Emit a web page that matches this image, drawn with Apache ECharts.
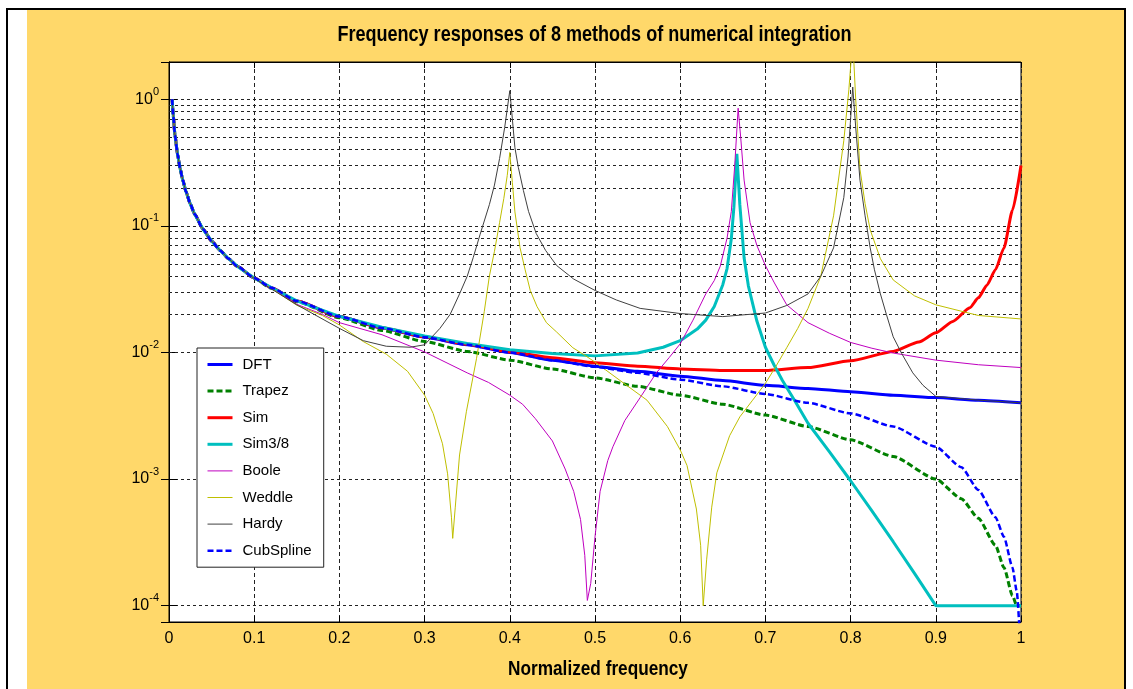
<!DOCTYPE html>
<html>
<head>
<meta charset="utf-8">
<script src="https://cdn.jsdelivr.net/npm/echarts@6/dist/echarts.min.js"></script>
<style>
  html, body { margin: 0; padding: 0; background: #ffffff; }
  #chart { width: 1133px; height: 689px; }
</style>
</head>
<body>
<div id="chart"></div>
<script>
// Sans used for every piece of text; headings are squeezed horizontally
const SANS = "'Liberation Sans', Arial, sans-serif";
const SQUEEZE = 0.82;

// Axis ranges
const xRange = [0, 1];
const xStep = 0.1;
const yRange = [7.43e-5, 1.97];

// Minor log grid: mantissas 2..9 in each decade, plus the two below 1e-4
const minorMantissas = [2, 3, 4, 5, 6, 7, 8, 9];
const minorDecades = [1e-4, 1e-3, 1e-2, 1e-1];
const minorExtra = [8e-5, 9e-5];

// Method names (legend order)
const methodNames = ['DFT', 'Trapez', 'Sim', 'Sim3/8', 'Boole', 'Weddle', 'Hardy', 'CubSpline'];

// Magnitude responses, [normalized frequency, |H|]
const dft = [
  [0.0037, 1.0], [0.005, 0.74], [0.007, 0.52], [0.01, 0.37], [0.013, 0.285], [0.016, 0.232],
  [0.02, 0.186], [0.025, 0.149], [0.03, 0.124], [0.04, 0.094], [0.05, 0.076], [0.06, 0.064],
  [0.07, 0.055], [0.08, 0.048], [0.1, 0.0388], [0.12, 0.0325], [0.15, 0.0255], [0.2, 0.0192],
  [0.25, 0.0156], [0.3, 0.0132], [0.35, 0.0115], [0.4, 0.0100], [0.45, 0.0087], [0.5, 0.0078],
  [0.55, 0.0071], [0.6, 0.0065], [0.65, 0.0060], [0.7, 0.0055], [0.75, 0.0052], [0.8, 0.0049],
  [0.85, 0.0046], [0.9, 0.0044], [0.95, 0.0042], [1.0, 0.0040]
];

const trapez = [
  [0.0037, 1.0], [0.005, 0.74], [0.007, 0.52], [0.01, 0.37], [0.013, 0.285], [0.016, 0.232],
  [0.02, 0.186], [0.025, 0.149], [0.03, 0.124], [0.04, 0.094], [0.05, 0.076], [0.06, 0.064],
  [0.07, 0.055], [0.08, 0.048], [0.1, 0.0386], [0.12, 0.0322], [0.15, 0.0252], [0.2, 0.0188],
  [0.25, 0.0149], [0.3, 0.0122], [0.35, 0.0102], [0.4, 0.0087], [0.45, 0.0074], [0.5, 0.0063],
  [0.55, 0.0054], [0.6, 0.0046], [0.65, 0.0039], [0.7, 0.0032], [0.75, 0.0026], [0.8, 0.00204],
  [0.85, 0.00151], [0.9, 0.00100], [0.93, 0.00070], [0.95, 0.00049], [0.97, 0.00030],
  [0.98, 0.00020], [0.99, 0.00012], [0.995, 0.0001], [1.0, 0.0001]
];

const sim = [
  [0.0037, 1.0], [0.005, 0.74], [0.007, 0.52], [0.01, 0.37], [0.013, 0.285], [0.016, 0.232],
  [0.02, 0.186], [0.025, 0.149], [0.03, 0.124], [0.04, 0.094], [0.05, 0.076], [0.06, 0.064],
  [0.07, 0.055], [0.08, 0.048], [0.1, 0.0388], [0.12, 0.0325], [0.15, 0.0255], [0.2, 0.0192],
  [0.25, 0.0157], [0.3, 0.0133], [0.35, 0.0116], [0.4, 0.0101], [0.45, 0.0091], [0.5, 0.0083],
  [0.55, 0.0078], [0.6, 0.0074], [0.65, 0.0072], [0.7, 0.0072], [0.75, 0.0076], [0.8, 0.0086],
  [0.85, 0.0102], [0.88, 0.0121], [0.9, 0.0143], [0.92, 0.0176], [0.94, 0.0226], [0.95, 0.027],
  [0.96, 0.034], [0.97, 0.045], [0.98, 0.067], [0.99, 0.133], [1.0, 0.30]
];

const sim38 = [
  [0.0037, 1.0], [0.005, 0.74], [0.007, 0.52], [0.01, 0.37], [0.013, 0.285], [0.016, 0.232],
  [0.02, 0.186], [0.025, 0.149], [0.03, 0.124], [0.04, 0.094], [0.05, 0.076], [0.06, 0.064],
  [0.07, 0.055], [0.08, 0.048], [0.1, 0.0388], [0.12, 0.0325], [0.15, 0.0256], [0.2, 0.0193],
  [0.25, 0.0158], [0.3, 0.0135], [0.35, 0.0118], [0.4, 0.0105], [0.45, 0.0098], [0.5, 0.0094],
  [0.55, 0.0099], [0.58, 0.0110], [0.6, 0.0124], [0.62, 0.0153], [0.63, 0.0180], [0.64, 0.0231],
  [0.65, 0.0343], [0.655, 0.046], [0.66, 0.079], [0.663, 0.14], [0.6665, 0.37], [0.67, 0.147],
  [0.675, 0.056], [0.68, 0.0336], [0.69, 0.0177], [0.7, 0.0110], [0.71, 0.0080], [0.72, 0.0060],
  [0.735, 0.0041], [0.75, 0.00276], [0.775, 0.00165], [0.8, 0.00097], [0.825, 0.00056],
  [0.85, 0.00032], [0.875, 0.00018], [0.9, 0.0001], [1.0, 0.0001]
];

const boole = [
  [0.0037, 1.0], [0.005, 0.74], [0.007, 0.52], [0.01, 0.37], [0.013, 0.285], [0.016, 0.232],
  [0.02, 0.186], [0.025, 0.149], [0.03, 0.124], [0.04, 0.094], [0.05, 0.076], [0.06, 0.064],
  [0.07, 0.055], [0.08, 0.048], [0.1, 0.0386], [0.12, 0.0321], [0.15, 0.0240], [0.18, 0.0200],
  [0.2, 0.0172], [0.25, 0.0138], [0.3, 0.0101], [0.35, 0.0069], [0.375, 0.0058], [0.4, 0.0046],
  [0.415, 0.0039], [0.43, 0.0030], [0.45, 0.0020], [0.465, 0.0012], [0.475, 0.0008],
  [0.483, 0.00048], [0.488, 0.00025], [0.491, 0.00011], [0.495, 0.00015], [0.5, 0.00035],
  [0.506, 0.0008], [0.515, 0.0014], [0.521, 0.0018], [0.535, 0.0029], [0.553, 0.0044],
  [0.572, 0.0069], [0.587, 0.0091], [0.6, 0.0117], [0.615, 0.018], [0.63, 0.029], [0.64, 0.037],
  [0.647, 0.048], [0.655, 0.08], [0.66, 0.13], [0.664, 0.3], [0.668, 0.85], [0.671, 0.5],
  [0.675, 0.23], [0.682, 0.106], [0.69, 0.07], [0.7, 0.0486], [0.71, 0.036], [0.725, 0.0238],
  [0.75, 0.0172], [0.775, 0.0142], [0.8, 0.0120], [0.825, 0.0108], [0.85, 0.0099],
  [0.9, 0.0087], [0.95, 0.0080], [1.0, 0.0076]
];

const weddle = [
  [0.0037, 1.0], [0.005, 0.74], [0.007, 0.52], [0.01, 0.37], [0.013, 0.285], [0.016, 0.232],
  [0.02, 0.186], [0.025, 0.149], [0.03, 0.124], [0.04, 0.094], [0.05, 0.076], [0.06, 0.064],
  [0.07, 0.055], [0.08, 0.048], [0.1, 0.0386], [0.12, 0.0321], [0.15, 0.0236], [0.18, 0.0196],
  [0.2, 0.0165], [0.228, 0.0122], [0.255, 0.0097], [0.28, 0.0071], [0.3, 0.0046], [0.31, 0.0033],
  [0.321, 0.0019], [0.327, 0.0011], [0.3315, 0.00050], [0.333, 0.00034], [0.336, 0.0006],
  [0.341, 0.00155], [0.349, 0.0034], [0.361, 0.0090], [0.37, 0.021], [0.376, 0.040],
  [0.382, 0.063], [0.388, 0.106], [0.393, 0.165], [0.397, 0.25], [0.4, 0.38], [0.403, 0.22],
  [0.406, 0.129], [0.412, 0.0673], [0.418, 0.045], [0.424, 0.0309], [0.432, 0.023],
  [0.443, 0.0172], [0.455, 0.0145], [0.474, 0.0109], [0.487, 0.0096], [0.5, 0.0084],
  [0.534, 0.0057], [0.561, 0.0042], [0.585, 0.0026], [0.6, 0.0017], [0.608, 0.00128],
  [0.619, 0.00058], [0.624, 0.0003], [0.627, 0.0001], [0.631, 0.00023], [0.637, 0.0006],
  [0.643, 0.00112], [0.658, 0.0022], [0.67, 0.0031], [0.685, 0.0042], [0.7, 0.0057],
  [0.712, 0.0077], [0.725, 0.0109], [0.738, 0.0155], [0.75, 0.0223], [0.765, 0.040], [0.78, 0.12],
  [0.792, 0.47], [0.798, 1.2], [0.8025, 3.0], [0.806, 1.0], [0.811, 0.28], [0.817, 0.15],
  [0.823, 0.093], [0.835, 0.055], [0.85, 0.0374], [0.875, 0.028], [0.9, 0.0238], [0.95, 0.0196],
  [1.0, 0.0184]
];

const hardy = [
  [0.0037, 1.0], [0.005, 0.74], [0.007, 0.52], [0.01, 0.37], [0.013, 0.285], [0.016, 0.232],
  [0.02, 0.186], [0.025, 0.149], [0.03, 0.124], [0.04, 0.094], [0.05, 0.076], [0.06, 0.064],
  [0.07, 0.055], [0.08, 0.048], [0.1, 0.0385], [0.12, 0.0318], [0.15, 0.0238], [0.2, 0.0155],
  [0.228, 0.0124], [0.255, 0.0112], [0.283, 0.0110], [0.3, 0.0115], [0.318, 0.0155],
  [0.33, 0.020], [0.341, 0.029], [0.35, 0.040], [0.357, 0.056], [0.365, 0.085], [0.376, 0.147],
  [0.382, 0.21], [0.388, 0.34], [0.394, 0.6], [0.4, 1.17], [0.403, 0.7], [0.406, 0.415],
  [0.41, 0.29], [0.416, 0.19], [0.422, 0.13], [0.431, 0.087], [0.442, 0.064], [0.455, 0.0486],
  [0.475, 0.038], [0.5, 0.0309], [0.525, 0.026], [0.553, 0.0223], [0.6, 0.0203], [0.65, 0.0192],
  [0.7, 0.0205], [0.725, 0.0235], [0.75, 0.029], [0.765, 0.040], [0.78, 0.067], [0.792, 0.167],
  [0.797, 0.35], [0.8025, 1.25], [0.806, 0.6], [0.811, 0.23], [0.817, 0.12], [0.823, 0.067],
  [0.828, 0.045], [0.835, 0.029], [0.842, 0.020], [0.85, 0.0133], [0.86, 0.0098],
  [0.873, 0.0069], [0.885, 0.0055], [0.9, 0.0045], [0.95, 0.0042], [1.0, 0.0040]
];

const cubSpline = [
  [0.0037, 1.0], [0.005, 0.74], [0.007, 0.52], [0.01, 0.37], [0.013, 0.285], [0.016, 0.232],
  [0.02, 0.186], [0.025, 0.149], [0.03, 0.124], [0.04, 0.094], [0.05, 0.076], [0.06, 0.064],
  [0.07, 0.055], [0.08, 0.048], [0.1, 0.0388], [0.12, 0.0325], [0.15, 0.0255], [0.2, 0.0192],
  [0.25, 0.0156], [0.3, 0.0132], [0.35, 0.0115], [0.4, 0.0100], [0.45, 0.0087], [0.5, 0.0077],
  [0.55, 0.0069], [0.6, 0.0061], [0.65, 0.0054], [0.7, 0.0047], [0.75, 0.0040], [0.8, 0.0033],
  [0.85, 0.0026], [0.9, 0.0018], [0.93, 0.00124], [0.95, 0.00082], [0.97, 0.00050],
  [0.98, 0.00035], [0.99, 0.0002], [0.995, 0.00013], [1.0, 0.00004]
];

// Legend sample line widths, same order as methodNames
const legendWidths = [3, 3, 3, 3, 1, 1, 1, 2.5];

const minorGridValues = minorDecades
  .flatMap(d => minorMantissas.map(m => +(m * d).toPrecision(3)))
  .concat(minorExtra);

function lineSeries(name, data, color, width, dash, smooth) {
  return {
    name: name,
    type: 'line',
    data: data,
    symbol: 'none',
    showSymbol: false,
    smooth: smooth || false,
    smoothMonotone: 'x',
    clip: true,
    z: 3,
    lineStyle: { color: color, width: width, type: dash || 'solid' },
    itemStyle: { color: color },
    emphasis: { disabled: true }
  };
}

function powerLabel(v) {
  const e = Math.log10(v);
  const r = Math.round(e);
  if (Math.abs(e - r) > 1e-6) return '';
  return '{b|10}{e|' + r + '}';
}

function squeezedText(text, x, y, size) {
  return {
    type: 'text', z: 10, x: x, y: y, scaleX: SQUEEZE, scaleY: 1,
    style: {
      text: text, align: 'center', verticalAlign: 'middle',
      font: 'bold ' + size + 'px ' + SANS, fill: '#000'
    }
  };
}

const chart = echarts.init(document.getElementById('chart'), null, { renderer: 'canvas' });

chart.setOption({
  animation: false,
  backgroundColor: '#ffffff',
  graphic: [
    { type: 'rect', z: -10, shape: { x: 27, y: 10, width: 1097, height: 679 }, style: { fill: '#FFD86A' } },
    { type: 'line', z: -9, shape: { x1: 7, y1: 9, x2: 1125, y2: 9 }, style: { stroke: '#000', lineWidth: 2 } },
    { type: 'line', z: -9, shape: { x1: 7, y1: 8, x2: 7, y2: 689 }, style: { stroke: '#000', lineWidth: 2 } },
    { type: 'line', z: -9, shape: { x1: 1125, y1: 8, x2: 1125, y2: 689 }, style: { stroke: '#000', lineWidth: 2 } },
    squeezedText('Frequency responses of 8 methods of numerical integration', 594.5, 35, 22),
    squeezedText('Normalized frequency', 598, 669, 21)
  ],
  grid: {
    left: 169, top: 62, width: 852, height: 560,
    show: true, backgroundColor: '#ffffff', borderColor: '#000', borderWidth: 1
  },
  legend: {
    data: methodNames.map((n, i) => ({ name: n, lineStyle: { width: legendWidths[i] } })),
    orient: 'vertical',
    left: 197, top: 348,
    padding: [9, 12, 9, 9],
    itemWidth: 25, itemHeight: 14, itemGap: 11.6,
    backgroundColor: '#ffffff',
    borderColor: '#222', borderWidth: 1,
    selectedMode: false,
    itemStyle: { opacity: 0, borderWidth: 0 },
    textStyle: { fontFamily: SANS, fontSize: 15, color: '#000', lineHeight: 14, padding: [0, 0, 0, 5] }
  },
  xAxis: [{
    type: 'value', min: xRange[0], max: xRange[1], interval: xStep,
    axisLine: { show: true, lineStyle: { color: '#000', width: 1 } },
    axisTick: { show: true, inside: true, length: 6, lineStyle: { color: '#000' } },
    axisLabel: { fontFamily: SANS, fontSize: 16, color: '#000', margin: 9 },
    splitLine: { show: true, lineStyle: { color: '#222', width: 1, type: [4, 3] } }
  }, {
    type: 'value', min: xRange[0], max: xRange[1], interval: xStep, position: 'top',
    axisLine: { show: true, lineStyle: { color: '#000', width: 1 } },
    axisTick: { show: true, inside: true, length: 6, lineStyle: { color: '#000' } },
    axisLabel: { show: false }, splitLine: { show: false }
  }],
  yAxis: [{
    type: 'log', logBase: 10, min: yRange[0], max: yRange[1],
    axisLine: { show: true, lineStyle: { color: '#000', width: 1 } },
    axisTick: { show: true, inside: true, length: 8, lineStyle: { color: '#000' } },
    axisLabel: {
      showMinLabel: false, showMaxLabel: false,
      margin: 10, formatter: powerLabel,
      rich: {
        b: { fontFamily: SANS, fontSize: 16, color: '#000', lineHeight: 26, verticalAlign: 'middle' },
        e: { fontFamily: SANS, fontSize: 11, color: '#000', lineHeight: 12, verticalAlign: 'top' }
      }
    },
    splitLine: { show: true, lineStyle: { color: '#222', width: 1, type: [3, 3] } }
  }, {
    type: 'log', logBase: 10, min: yRange[0], max: yRange[1], position: 'right',
    axisLine: { show: true, lineStyle: { color: '#000', width: 1 } },
    axisTick: { show: true, inside: true, length: 8, lineStyle: { color: '#000' } },
    axisLabel: { show: false }, splitLine: { show: false }
  }],
  series: [
    {
      name: 'minor grid', type: 'line', data: [], z: 1, silent: true,
      markLine: {
        silent: true, z: 1, symbol: ['none', 'none'], animation: false,
        label: { show: false },
        lineStyle: { color: '#222', width: 1, type: [3, 3] },
        emphasis: { disabled: true },
        data: minorGridValues.map(v => ({ yAxis: v }))
      }
    },
    lineSeries('DFT', dft, '#0000FF', 3, null, 0.2),
    lineSeries('Trapez', trapez, '#008000', 3, [6, 3], 0.2),
    lineSeries('Sim', sim, '#FF0000', 3, null, 0.2),
    lineSeries('Sim3/8', sim38, '#00BFBF', 3),
    lineSeries('Boole', boole, '#BF00BF', 1),
    lineSeries('Weddle', weddle, '#BFBF00', 1),
    lineSeries('Hardy', hardy, '#404040', 1),
    lineSeries('CubSpline', cubSpline, '#0000FF', 2.5, [6, 3], 0.2)
  ]
});
</script>
</body>
</html>
